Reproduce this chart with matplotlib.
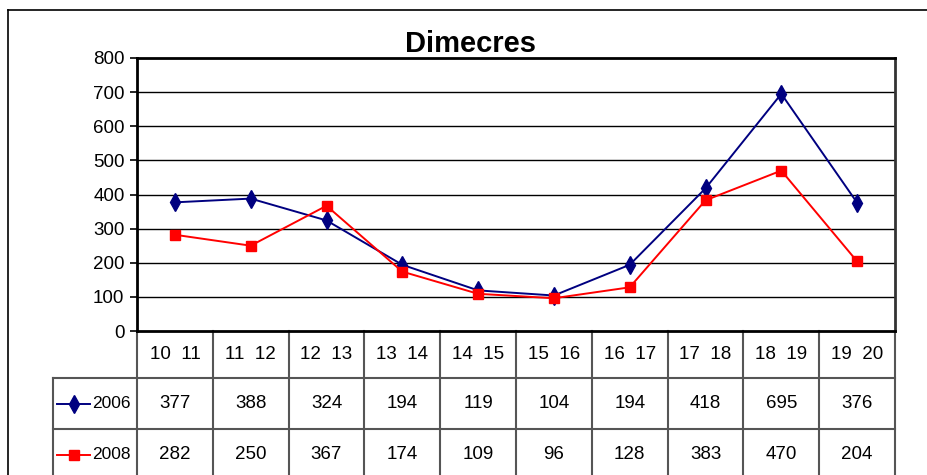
import matplotlib
matplotlib.use("Agg")
import matplotlib.pyplot as plt
import matplotlib.transforms as mtransforms
from matplotlib.lines import Line2D
import numpy as np

plt.rcParams["font.family"] = ["Liberation Sans Narrow", "Liberation Sans", "DejaVu Sans"]

# ── Data ──────────────────────────────────────────────────────────────────────
TITLE = "Dimecres"
CATEGORIES = ["10  11", "11  12", "12  13", "13  14", "14  15",
              "15  16", "16  17", "17  18", "18  19", "19  20"]
SERIES_NAMES = ["2006", "2008"]
VALUES_2006 = [377, 388, 324, 194, 119, 104, 194, 418, 695, 376]
VALUES_2008 = [282, 250, 367, 174, 109, 96, 128, 383, 470, 204]
Y_TICKS = [0, 100, 200, 300, 400, 500, 600, 700, 800]

COLORS = {"2006": "#000080", "2008": "#FF0000"}
MARKERS = {"2006": "d", "2008": "s"}
MSIZE = {"2006": 9, "2008": 7}

W, H = 927, 475
fig = plt.figure(figsize=(W / 100, H / 100), dpi=100)

# plot area in pixel coords
PL, PR, PT, PB = 137, 895, 58, 331
ax = fig.add_axes([PL / W, 1 - PB / H, (PR - PL) / W, (PB - PT) / H])

x = np.arange(len(CATEGORIES))
series = {"2006": VALUES_2006, "2008": VALUES_2008}
for name in SERIES_NAMES:
    ax.plot(x, series[name], color=COLORS[name], linewidth=1.4,
            marker=MARKERS[name], markersize=MSIZE[name], zorder=3,
            markeredgecolor=COLORS[name], markerfacecolor=COLORS[name])

ax.set_xlim(-0.5, len(CATEGORIES) - 0.5)
ax.set_ylim(0, 800)
ax.set_yticks(Y_TICKS)
ax.set_yticklabels([str(v) for v in Y_TICKS], fontsize=13.5)
ax.tick_params(axis="y", direction="out", length=5, width=1.2, pad=4)
ax.set_xticks([])
for v in Y_TICKS[1:-1]:
    ax.axhline(v, color="black", linewidth=1.0, zorder=1)

for side in ["top", "left", "bottom", "right"]:
    ax.spines[side].set_linewidth(2.0)
ax.spines["right"].set_color("#333333")

ax.text(0.44, 1.05, TITLE, transform=ax.transAxes, ha="center", va="center",
        fontsize=21, fontweight="bold", zorder=5)

# ── Data table under the plot ────────────────────────────────────────────────
trans = mtransforms.blended_transform_factory(ax.transData, ax.transAxes)
ax_h = PB - PT
def yfrac(py):
    return (PB - py) / ax_h

ROW_EDGES = [331, 378, 429, 480]
col_w = (PR - PL) / len(CATEGORIES)
x_leg_left = -0.5 - (PL - 53) / col_w
tcol = "#555555"

for i in range(len(CATEGORIES) + 1):
    xe = i - 0.5
    ax.add_line(Line2D([xe, xe], [yfrac(ROW_EDGES[0]), yfrac(ROW_EDGES[-1])],
                       transform=trans, color=tcol, linewidth=1.5, clip_on=False))
for py in ROW_EDGES[1:3]:
    ax.add_line(Line2D([x_leg_left, len(CATEGORIES) - 0.5], [yfrac(py), yfrac(py)],
                       transform=trans, color=tcol, linewidth=1.5, clip_on=False))
ax.add_line(Line2D([x_leg_left, x_leg_left], [yfrac(ROW_EDGES[1]), yfrac(ROW_EDGES[-1])],
                   transform=trans, color=tcol, linewidth=1.5, clip_on=False))

yc_head = yfrac((ROW_EDGES[0] + ROW_EDGES[1]) / 2)
for i, c in enumerate(CATEGORIES):
    ax.text(i, yc_head, c, transform=trans, ha="center", va="center", fontsize=13.5)

for r, name in enumerate(SERIES_NAMES):
    yc = yfrac((ROW_EDGES[r + 1] + ROW_EDGES[r + 2]) / 2)
    for i, v in enumerate(series[name]):
        ax.text(i, yc, str(v), transform=trans, ha="center", va="center", fontsize=13.5)
    # legend key
    lx0 = x_leg_left + 4 / col_w
    lx1 = x_leg_left + 37 / col_w
    ax.add_line(Line2D([lx0, lx1], [yc, yc], transform=trans, color=COLORS[name],
                       linewidth=1.4, clip_on=False))
    ax.add_line(Line2D([(lx0 + lx1) / 2], [yc], transform=trans, color=COLORS[name],
                       marker=MARKERS[name], markersize=MSIZE[name], clip_on=False))
    ax.text(lx1 + 2 / col_w, yc, name, transform=trans, ha="left", va="center",
            fontsize=12.5)

# outer chart frame
fig.add_artist(Line2D([8 / W, 8 / W], [0, 1 - 10 / H], color="black", linewidth=1.2))
fig.add_artist(Line2D([8 / W, 1], [1 - 10 / H, 1 - 10 / H], color="black", linewidth=1.2))

fig.savefig("out.png", dpi=100)
